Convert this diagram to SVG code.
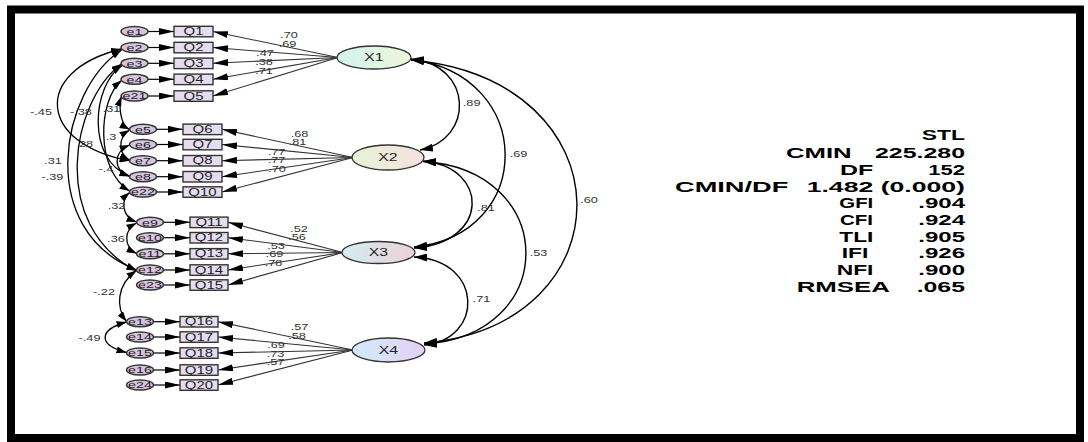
<svg xmlns="http://www.w3.org/2000/svg" width="1088" height="442" viewBox="0 0 1088 442">
<defs>
<style>
.fr{fill:#fff;stroke:#000;stroke-width:8}
.q{fill:#e6dcf0;stroke:#333;stroke-width:1.4}
.e{fill:#d6c4e1;stroke:#333;stroke-width:1.4}
.x{stroke:#333;stroke-width:1.3}
text{font-family:"Liberation Sans",Arial,sans-serif}
.s{transform-box:fill-box;transform-origin:center;transform:scaleX(1.5)}
.qt{font-size:10px;text-anchor:middle;fill:#222}
.et{font-size:9.5px;text-anchor:middle;fill:#222}
.xt{font-size:10.5px;text-anchor:middle;fill:#222}
.lb{font-size:8.5px;text-anchor:middle;fill:#333}
.st{font-size:14.5px;font-weight:bold;fill:#000}
.ar{fill:none;stroke:#000;stroke-width:1.2}
.ln{fill:none;stroke:#333;stroke-width:1.1}
.cv{fill:none;stroke:#000;stroke-width:1.4}
.ec{fill:none;stroke:#000;stroke-width:1.3}
</style>
<marker id="a" markerUnits="userSpaceOnUse" markerWidth="15" markerHeight="7" refX="15" refY="3.5" orient="auto-start-reverse"><path d="M0,0L15,3.5L0,7Z" fill="#000"/></marker>
<marker id="c" markerUnits="userSpaceOnUse" markerWidth="13" markerHeight="8" refX="13" refY="4" orient="auto-start-reverse"><path d="M0,0L13,4L0,8Z" fill="#000"/></marker>
<marker id="d" markerUnits="userSpaceOnUse" markerWidth="10" markerHeight="7" refX="10" refY="3.5" orient="auto-start-reverse"><path d="M0,0L10,3.5L0,7Z" fill="#000"/></marker>
<linearGradient id="g1" x1="0" y1="0" x2="1" y2="0"><stop offset="0" stop-color="#d2f4ee"/><stop offset="1" stop-color="#eef6d8"/></linearGradient>
<linearGradient id="g2" x1="0" y1="0" x2="1" y2="0"><stop offset="0" stop-color="#e6f4d6"/><stop offset="1" stop-color="#f6e0e0"/></linearGradient>
<linearGradient id="g3" x1="0" y1="0" x2="1" y2="0"><stop offset="0" stop-color="#d3eef0"/><stop offset="1" stop-color="#edd0d6"/></linearGradient>
<linearGradient id="g4" x1="0" y1="0" x2="1" y2="0"><stop offset="0" stop-color="#d0ecfa"/><stop offset="1" stop-color="#e4d0f4"/></linearGradient>
</defs>
<rect x="0" y="0" width="1088" height="442" fill="#fff"/>
<rect class="fr" x="11" y="9.5" width="1069" height="428.5"/>

<g id="connectors">
<g class="ar">
<line x1="148" y1="31.5" x2="174" y2="31.5" marker-end="url(#a)"/>
<line x1="148" y1="47.5" x2="174" y2="47.5" marker-end="url(#a)"/>
<line x1="148" y1="63.3" x2="174" y2="63.3" marker-end="url(#a)"/>
<line x1="148" y1="79.3" x2="174" y2="79.3" marker-end="url(#a)"/>
<line x1="148" y1="96" x2="174" y2="96" marker-end="url(#a)"/>
<line x1="156.5" y1="129.3" x2="183" y2="129.3" marker-end="url(#a)"/>
<line x1="156.5" y1="144.5" x2="183" y2="144.5" marker-end="url(#a)"/>
<line x1="156.5" y1="160.7" x2="183" y2="160.7" marker-end="url(#a)"/>
<line x1="156.5" y1="176.7" x2="183" y2="176.7" marker-end="url(#a)"/>
<line x1="156.5" y1="192" x2="183" y2="192" marker-end="url(#a)"/>
<line x1="163.5" y1="222.3" x2="190" y2="222.3" marker-end="url(#a)"/>
<line x1="163.5" y1="237.7" x2="190" y2="237.7" marker-end="url(#a)"/>
<line x1="163.5" y1="253.8" x2="190" y2="253.8" marker-end="url(#a)"/>
<line x1="163.5" y1="270" x2="190" y2="270" marker-end="url(#a)"/>
<line x1="163.5" y1="285" x2="190" y2="285" marker-end="url(#a)"/>
<line x1="153.5" y1="321.7" x2="180" y2="321.7" marker-end="url(#a)"/>
<line x1="153.5" y1="337" x2="180" y2="337" marker-end="url(#a)"/>
<line x1="153.5" y1="353" x2="180" y2="353" marker-end="url(#a)"/>
<line x1="153.5" y1="370" x2="180" y2="370" marker-end="url(#a)"/>
<line x1="153.5" y1="385" x2="180" y2="385" marker-end="url(#a)"/>
</g>
<g class="ln">
<line x1="338" y1="57.5" x2="213" y2="31.5" marker-end="url(#a)"/>
<line x1="338" y1="57.5" x2="213" y2="47.5" marker-end="url(#a)"/>
<line x1="338" y1="57.5" x2="213" y2="63.3" marker-end="url(#a)"/>
<line x1="338" y1="57.5" x2="213" y2="79.3" marker-end="url(#a)"/>
<line x1="338" y1="57.5" x2="213" y2="96" marker-end="url(#a)"/>
<line x1="353" y1="157.5" x2="222" y2="129.3" marker-end="url(#a)"/>
<line x1="353" y1="157.5" x2="222" y2="144.5" marker-end="url(#a)"/>
<line x1="353" y1="157.5" x2="222" y2="160.7" marker-end="url(#a)"/>
<line x1="353" y1="157.5" x2="222" y2="176.7" marker-end="url(#a)"/>
<line x1="353" y1="157.5" x2="222" y2="192" marker-end="url(#a)"/>
<line x1="343" y1="252.5" x2="228" y2="222.3" marker-end="url(#a)"/>
<line x1="343" y1="252.5" x2="228" y2="237.7" marker-end="url(#a)"/>
<line x1="343" y1="252.5" x2="228" y2="253.8" marker-end="url(#a)"/>
<line x1="343" y1="252.5" x2="228" y2="270" marker-end="url(#a)"/>
<line x1="343" y1="252.5" x2="228" y2="285" marker-end="url(#a)"/>
<line x1="353" y1="350" x2="218" y2="321.7" marker-end="url(#a)"/>
<line x1="353" y1="350" x2="218" y2="337" marker-end="url(#a)"/>
<line x1="353" y1="350" x2="218" y2="353" marker-end="url(#a)"/>
<line x1="353" y1="350" x2="218" y2="370" marker-end="url(#a)"/>
<line x1="353" y1="350" x2="218" y2="385" marker-end="url(#a)"/>
</g>
<g class="cv">
<path d="M411,59 C474,65 474,140 420,150" marker-start="url(#c)" marker-end="url(#c)"/>
<path d="M411,59.5 C536,75 536,235 414,247" marker-start="url(#c)" marker-end="url(#c)"/>
<path d="M411,60 C630,80 630,325 424,343" marker-start="url(#c)" marker-end="url(#c)"/>
<path d="M423,161 C490,167 490,243 414,248" marker-start="url(#c)" marker-end="url(#c)"/>
<path d="M423,161.5 C560,170 560,336 424,344" marker-start="url(#c)" marker-end="url(#c)"/>
<path d="M414,257 C484,260 484,340 424,345" marker-start="url(#c)" marker-end="url(#c)"/>
</g>
<g class="ec">
<path d="M121,49 C30,72 40,145 129.5,160.7" marker-start="url(#d)" marker-end="url(#d)"/>
<path d="M121.5,50 C60,90 35,230 136.5,270" marker-start="url(#d)" marker-end="url(#d)"/>
<path d="M121.5,64 C72,100 48,225 136.5,271" marker-start="url(#d)" marker-end="url(#d)"/>
<path d="M122,65.5 C92,85 86,160 129.5,176" marker-start="url(#d)" marker-end="url(#d)"/>
<path d="M121.5,80.5 C98,100 95,170 129.5,191" marker-start="url(#d)" marker-end="url(#d)"/>
<path d="M121.5,96.5 C119,103 119,124 129.5,129.5" marker-start="url(#d)" marker-end="url(#d)"/>
<path d="M129.5,130 C118,137 118,154 129.5,160" marker-start="url(#d)" marker-end="url(#d)"/>
<path d="M129.5,145 C113,152 113,170 129.5,176.5" marker-start="url(#d)" marker-end="url(#d)"/>
<path d="M129.5,192.5 C121,200 121,216 136.5,222" marker-start="url(#d)" marker-end="url(#d)"/>
<path d="M136.5,223 C123.5,230 123.5,247 136.5,253.5" marker-start="url(#d)" marker-end="url(#d)"/>
<path d="M136.5,270.5 C116,285 116,308 126.5,321.5" marker-start="url(#d)" marker-end="url(#d)"/>
<path d="M126.5,322 C98,330 98,345 126.5,352.5" marker-start="url(#d)" marker-end="url(#d)"/>
</g>
<g>
<text class="lb s" x="289" y="38.3">.70</text>
<text class="lb s" x="287.5" y="47.3">.69</text>
<text class="lb s" x="265" y="56.5">.47</text>
<text class="lb s" x="264" y="65">.38</text>
<text class="lb s" x="264" y="74">.71</text>
<text class="lb s" x="299.5" y="136.7">.68</text>
<text class="lb s" x="297.5" y="145.5">.81</text>
<text class="lb s" x="276.5" y="155">.77</text>
<text class="lb s" x="276.5" y="163.3">.77</text>
<text class="lb s" x="277" y="171.7">.70</text>
<text class="lb s" x="299" y="231.7">.52</text>
<text class="lb s" x="297" y="240">.56</text>
<text class="lb s" x="276" y="248.7">.53</text>
<text class="lb s" x="274.5" y="257.2">.69</text>
<text class="lb s" x="273.5" y="266">.78</text>
<text class="lb s" x="299.5" y="330.4">.57</text>
<text class="lb s" x="297" y="338.7">.58</text>
<text class="lb s" x="276" y="348">.69</text>
<text class="lb s" x="275.5" y="356.7">.73</text>
<text class="lb s" x="275.5" y="365">.57</text>
<text class="lb s" x="471.7" y="106">.89</text>
<text class="lb s" x="518.5" y="156.7">.69</text>
<text class="lb s" x="589" y="203">.60</text>
<text class="lb s" x="486" y="211">.81</text>
<text class="lb s" x="538.5" y="256">.53</text>
<text class="lb s" x="481.5" y="302">.71</text>
<text class="lb s" x="41" y="115.5">-.45</text>
<text class="lb s" x="81" y="115">-.38</text>
<text class="lb s" x="111.5" y="112">.31</text>
<text class="lb s" x="86" y="147">28</text>
<text class="lb s" x="111" y="140">.3</text>
<text class="lb s" x="53" y="164">.31</text>
<text class="lb s" x="52.5" y="180">-.39</text>
<text class="lb s" x="106" y="172">-.4</text>
<text class="lb s" x="116.5" y="209">.32</text>
<text class="lb s" x="116" y="241.7">.36</text>
<text class="lb s" x="104" y="295">-.22</text>
<text class="lb s" x="89.5" y="341">-.49</text>
</g>
</g>

<g id="e1"><ellipse class="e" cx="134.5" cy="31.5" rx="13.5" ry="5"/><text class="et s" x="134.5" y="34.8">e1</text></g>
<g id="e2"><ellipse class="e" cx="134.5" cy="47.5" rx="13.5" ry="5"/><text class="et s" x="134.5" y="50.8">e2</text></g>
<g id="e3"><ellipse class="e" cx="134.5" cy="63.3" rx="13.5" ry="5"/><text class="et s" x="134.5" y="66.6">e3</text></g>
<g id="e4"><ellipse class="e" cx="134.5" cy="79.3" rx="13.5" ry="5"/><text class="et s" x="134.5" y="82.6">e4</text></g>
<g id="e21"><ellipse class="e" cx="134.5" cy="96" rx="13.5" ry="5"/><text class="et s" x="134.5" y="99.3">e21</text></g>
<g id="e5"><ellipse class="e" cx="143" cy="129.3" rx="13.5" ry="5"/><text class="et s" x="143" y="132.6">e5</text></g>
<g id="e6"><ellipse class="e" cx="143" cy="144.5" rx="13.5" ry="5"/><text class="et s" x="143" y="147.8">e6</text></g>
<g id="e7"><ellipse class="e" cx="143" cy="160.7" rx="13.5" ry="5"/><text class="et s" x="143" y="164">e7</text></g>
<g id="e8"><ellipse class="e" cx="143" cy="176.7" rx="13.5" ry="5"/><text class="et s" x="143" y="180">e8</text></g>
<g id="e22"><ellipse class="e" cx="143" cy="192" rx="13.5" ry="5"/><text class="et s" x="143" y="195.3">e22</text></g>
<g id="e9"><ellipse class="e" cx="150" cy="222.3" rx="13.5" ry="5"/><text class="et s" x="150" y="225.6">e9</text></g>
<g id="e10"><ellipse class="e" cx="150" cy="237.7" rx="13.5" ry="5"/><text class="et s" x="150" y="241">e10</text></g>
<g id="e11"><ellipse class="e" cx="150" cy="253.8" rx="13.5" ry="5"/><text class="et s" x="150" y="257.1">e11</text></g>
<g id="e12"><ellipse class="e" cx="150" cy="270" rx="13.5" ry="5"/><text class="et s" x="150" y="273.3">e12</text></g>
<g id="e23"><ellipse class="e" cx="150" cy="285" rx="13.5" ry="5"/><text class="et s" x="150" y="288.3">e23</text></g>
<g id="e13"><ellipse class="e" cx="140" cy="321.7" rx="13.5" ry="5"/><text class="et s" x="140" y="325">e13</text></g>
<g id="e14"><ellipse class="e" cx="140" cy="337" rx="13.5" ry="5"/><text class="et s" x="140" y="340.3">e14</text></g>
<g id="e15"><ellipse class="e" cx="140" cy="353" rx="13.5" ry="5"/><text class="et s" x="140" y="356.3">e15</text></g>
<g id="e16"><ellipse class="e" cx="140" cy="370" rx="13.5" ry="5"/><text class="et s" x="140" y="373.3">e16</text></g>
<g id="e24"><ellipse class="e" cx="140" cy="385" rx="13.5" ry="5"/><text class="et s" x="140" y="388.3">e24</text></g>

<g id="Q1"><rect class="q" x="174" y="26.3" width="39" height="10.5"/><text class="qt s" x="193.5" y="35.2">Q1</text></g>
<g id="Q2"><rect class="q" x="174" y="42.3" width="39" height="10.5"/><text class="qt s" x="193.5" y="51.2">Q2</text></g>
<g id="Q3"><rect class="q" x="174" y="58.1" width="39" height="10.5"/><text class="qt s" x="193.5" y="67">Q3</text></g>
<g id="Q4"><rect class="q" x="174" y="74.1" width="39" height="10.5"/><text class="qt s" x="193.5" y="83">Q4</text></g>
<g id="Q5"><rect class="q" x="174" y="90.8" width="39" height="10.5"/><text class="qt s" x="193.5" y="99.7">Q5</text></g>
<g id="Q6"><rect class="q" x="183" y="124.1" width="39" height="10.5"/><text class="qt s" x="202.5" y="133">Q6</text></g>
<g id="Q7"><rect class="q" x="183" y="139.3" width="39" height="10.5"/><text class="qt s" x="202.5" y="148.2">Q7</text></g>
<g id="Q8"><rect class="q" x="183" y="155.5" width="39" height="10.5"/><text class="qt s" x="202.5" y="164.4">Q8</text></g>
<g id="Q9"><rect class="q" x="183" y="171.5" width="39" height="10.5"/><text class="qt s" x="202.5" y="180.4">Q9</text></g>
<g id="Q10"><rect class="q" x="183" y="186.8" width="39" height="10.5"/><text class="qt s" x="202.5" y="195.7">Q10</text></g>
<g id="Q11"><rect class="q" x="190" y="217.1" width="38" height="10.5"/><text class="qt s" x="209" y="226">Q11</text></g>
<g id="Q12"><rect class="q" x="190" y="232.5" width="38" height="10.5"/><text class="qt s" x="209" y="241.4">Q12</text></g>
<g id="Q13"><rect class="q" x="190" y="248.6" width="38" height="10.5"/><text class="qt s" x="209" y="257.5">Q13</text></g>
<g id="Q14"><rect class="q" x="190" y="264.8" width="38" height="10.5"/><text class="qt s" x="209" y="273.7">Q14</text></g>
<g id="Q15"><rect class="q" x="190" y="279.8" width="38" height="10.5"/><text class="qt s" x="209" y="288.7">Q15</text></g>
<g id="Q16"><rect class="q" x="180" y="316.5" width="38" height="10.5"/><text class="qt s" x="199" y="325.4">Q16</text></g>
<g id="Q17"><rect class="q" x="180" y="331.8" width="38" height="10.5"/><text class="qt s" x="199" y="340.7">Q17</text></g>
<g id="Q18"><rect class="q" x="180" y="347.8" width="38" height="10.5"/><text class="qt s" x="199" y="356.7">Q18</text></g>
<g id="Q19"><rect class="q" x="180" y="364.8" width="38" height="10.5"/><text class="qt s" x="199" y="373.7">Q19</text></g>
<g id="Q20"><rect class="q" x="180" y="379.8" width="38" height="10.5"/><text class="qt s" x="199" y="388.7">Q20</text></g>

<g id="X1"><ellipse class="x" cx="374" cy="57.5" rx="37" ry="11.5" fill="url(#g1)"/><text class="xt s" x="374" y="61.3">X1</text></g>
<g id="X2"><ellipse class="x" cx="388" cy="157.5" rx="36" ry="12.5" fill="url(#g2)"/><text class="xt s" x="388" y="161.3">X2</text></g>
<g id="X3"><ellipse class="x" cx="378.5" cy="252.5" rx="36.5" ry="11" fill="url(#g3)"/><text class="xt s" x="378.5" y="256.3">X3</text></g>
<g id="X4"><ellipse class="x" cx="388.5" cy="350" rx="36.5" ry="12" fill="url(#g4)"/><text class="xt s" x="388.5" y="353.8">X4</text></g>

<g id="fit-table" class="st">
<text x="921.7" y="140" textLength="43.3" lengthAdjust="spacingAndGlyphs">STL</text>
<text x="786" y="157.7" textLength="65.7" lengthAdjust="spacingAndGlyphs">CMIN</text>
<text x="875" y="157.7" textLength="90" lengthAdjust="spacingAndGlyphs">225.280</text>
<text x="840" y="175" textLength="33.3" lengthAdjust="spacingAndGlyphs">DF</text>
<text x="928.3" y="175" textLength="36.7" lengthAdjust="spacingAndGlyphs">152</text>
<text x="675" y="191.7" textLength="113.3" lengthAdjust="spacingAndGlyphs">CMIN/DF</text>
<text x="806.7" y="191.7" textLength="158.3" lengthAdjust="spacingAndGlyphs">1.482 (0.000)</text>
<text x="839.3" y="208" textLength="34" lengthAdjust="spacingAndGlyphs">GFI</text>
<text x="918.3" y="208" textLength="46.7" lengthAdjust="spacingAndGlyphs">.904</text>
<text x="840" y="225" textLength="33" lengthAdjust="spacingAndGlyphs">CFI</text>
<text x="918.3" y="225" textLength="46.7" lengthAdjust="spacingAndGlyphs">.924</text>
<text x="839.3" y="241.7" textLength="34" lengthAdjust="spacingAndGlyphs">TLI</text>
<text x="918.3" y="241.7" textLength="46.7" lengthAdjust="spacingAndGlyphs">.905</text>
<text x="841.7" y="258" textLength="26.7" lengthAdjust="spacingAndGlyphs">IFI</text>
<text x="918.3" y="258" textLength="46.7" lengthAdjust="spacingAndGlyphs">.926</text>
<text x="836.7" y="275" textLength="36.7" lengthAdjust="spacingAndGlyphs">NFI</text>
<text x="918.3" y="275" textLength="46.7" lengthAdjust="spacingAndGlyphs">.900</text>
<text x="796.7" y="291.7" textLength="93.3" lengthAdjust="spacingAndGlyphs">RMSEA</text>
<text x="916.7" y="291.7" textLength="48.3" lengthAdjust="spacingAndGlyphs">.065</text>
</g>
</svg>
